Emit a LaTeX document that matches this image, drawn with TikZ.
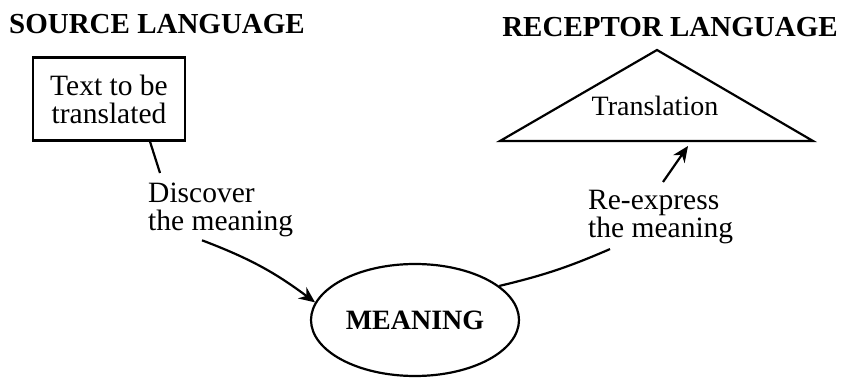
\documentclass[tikz,border=0pt]{standalone}
\usepackage{fontspec}
\setmainfont{Liberation Serif}
\usetikzlibrary{shapes.geometric,arrows.meta}

\begin{document}
\begin{tikzpicture}[x=1pt, y=-1pt,
    every node/.style={font=\fontsize{29.5}{28}\selectfont, inner sep=0pt},
    heading/.style={font=\fontsize{29}{29}\selectfont\bfseries},
    link/.style={line width=2.2pt},
    arrow/.style={link, -{Stealth[length=16pt, width=14pt]}}]
    \useasboundingbox (0,0) rectangle (841,379);

    \node[heading] (source) at (157,24) {SOURCE LANGUAGE};
    \node[heading] (receptor) at (670,27) {RECEPTOR LANGUAGE};

    \node (text) at (109,99) [draw, link, align=center, minimum width=152pt, minimum height=83pt] {Text to be\\translated};
    \node (meaning) at (415,320) [draw, link, ellipse, minimum width=208pt, minimum height=112pt, font=\fontsize{28}{28}\selectfont\bfseries] {MEANING};

    % receptor triangle
    \coordinate (apex) at (657,50);
    \coordinate (base left) at (500,141);
    \coordinate (base right) at (813,141);
    \coordinate (base mid) at (688,146);
    \draw[link, line join=miter] (base left) -- (apex) -- (base right) -- cycle;
    \node (translation) at (655,106) [font=\fontsize{28}{28}\selectfont] {Translation};

    \node (discover) at (148,183) [anchor=north west, align=left] {Discover\\the meaning};
    \node (reexpress) at (588,190) [anchor=north west, align=left] {Re-express\\the meaning};

    \draw[link] ([xshift=41pt]text.south) -- ([xshift=12pt, yshift=10pt]discover.north west);
    \draw[arrow] ([xshift=54pt, yshift=-3pt]discover.south west) to[bend left=8] (meaning.170);
    \draw[link] (meaning.22) to[bend right=5] ([xshift=22pt, yshift=-5pt]reexpress.south west);
    \draw[arrow] ([xshift=75pt, yshift=8pt]reexpress.north west) -- (base mid);
\end{tikzpicture}
\end{document}
